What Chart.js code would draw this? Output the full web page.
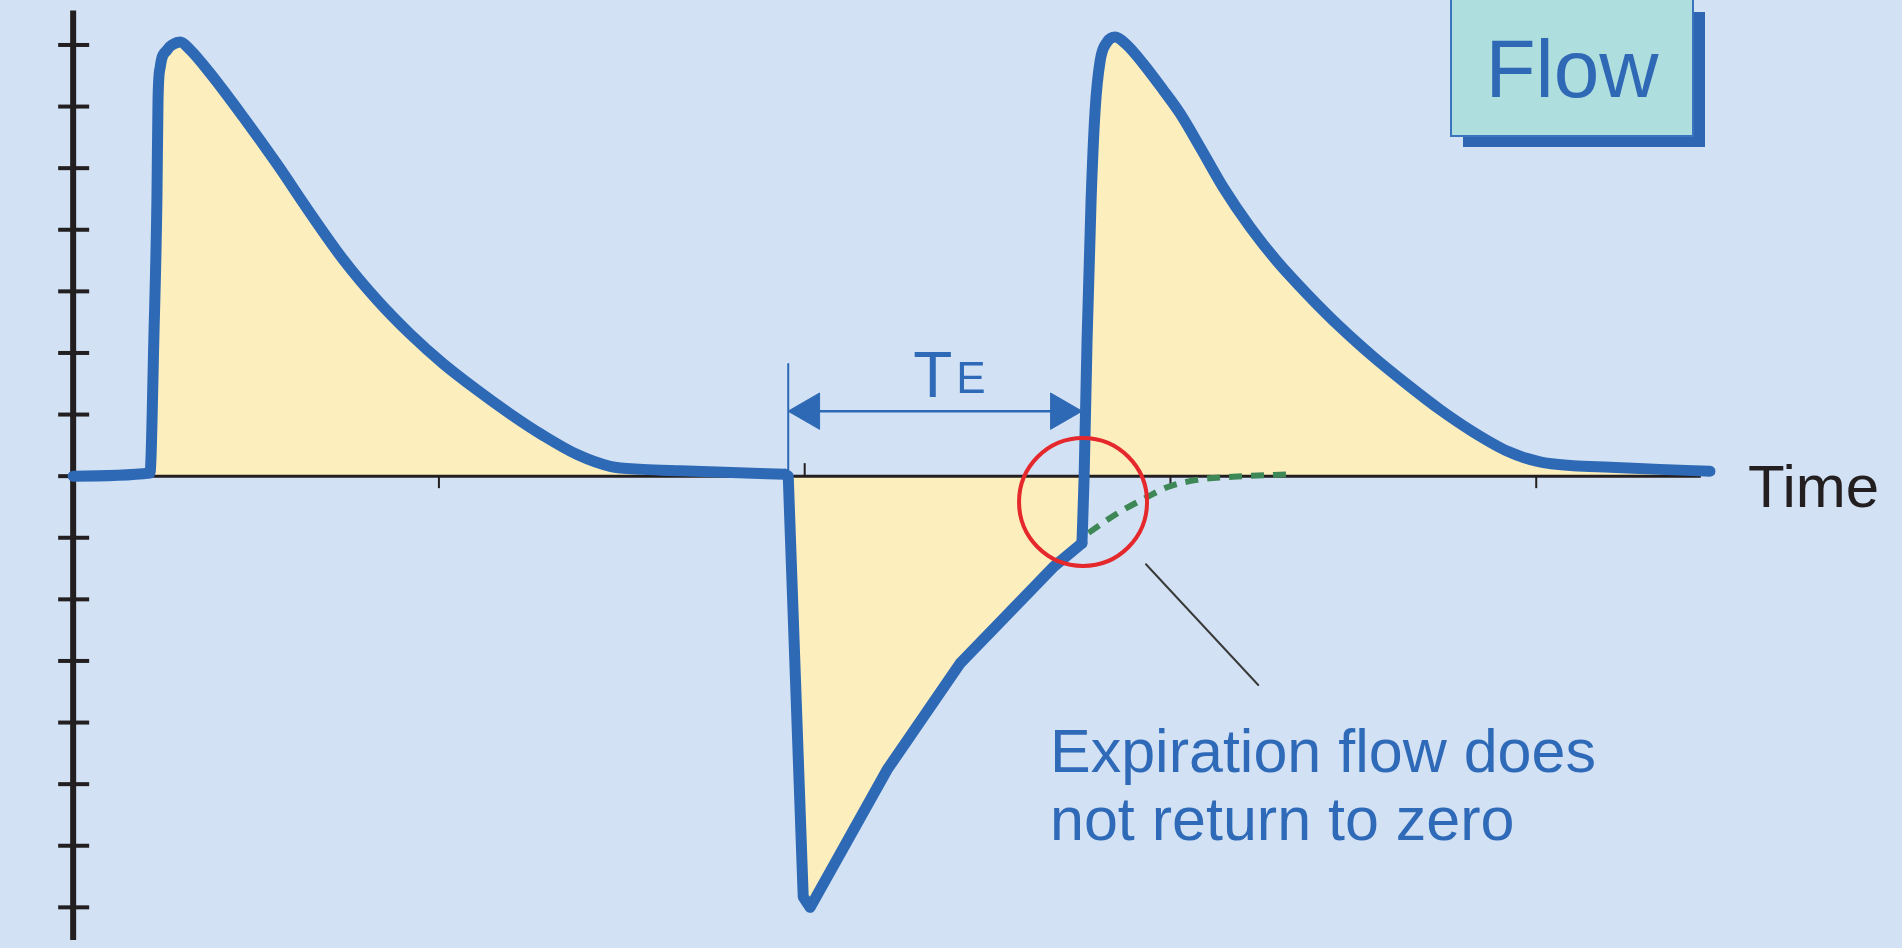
<!DOCTYPE html>
<html>
<head>
<meta charset="utf-8">
<title>Flow</title>
<script src="https://cdn.jsdelivr.net/npm/chart.js@4.4.1/dist/chart.umd.min.js"></script>
<style>
  html, body { margin: 0; padding: 0; background: #d2e1f3; overflow: hidden; }
  #wrap { width: 1902px; height: 948px; }
</style>
</head>
<body>
<div id="wrap"><canvas id="flowChart" width="1902" height="948"></canvas></div>
<script>
// Flow waveform. Time in tick units, flow in tick units.
const insp1Time = [0.0, 0.21, 0.221, 0.229, 0.232, 0.238, 0.257, 0.273, 0.2925, 0.32, 0.3745, 0.465, 0.558, 0.648, 0.738, 0.831, 0.921, 1.011, 1.104, 1.195, 1.285, 1.378, 1.468, 1.558, 1.659, 1.80, 1.946];
const insp1Flow = [0.0, 0.05, 2.32, 4.48, 6.10, 6.64, 6.92, 7.01, 7.05, 6.92, 6.54, 5.83, 5.06, 4.27, 3.52, 2.86, 2.31, 1.83, 1.40, 1.01, 0.66, 0.35, 0.16, 0.11, 0.086, 0.06, 0.03];

const expTime = [1.946, 1.955, 1.996, 2.015, 2.225, 2.425, 2.679, 2.758];
const expFlow = [0.03, 0.0, -6.83, -7.0, -4.77, -3.04, -1.48, -1.09];

const insp2Time = [2.758, 2.764, 2.772, 2.783, 2.794, 2.808, 2.827, 2.849, 2.881, 2.925, 2.98, 3.026, 3.081, 3.144, 3.218, 3.291, 3.373, 3.464, 3.554, 3.647, 3.737, 3.827, 3.92, 4.01, 4.101, 4.202, 4.338, 4.475];
const insp2Flow = [-1.09, 0.0, 2.21, 4.48, 5.94, 6.75, 7.05, 7.13, 7.0, 6.70, 6.27, 5.89, 5.34, 4.69, 4.04, 3.49, 2.96, 2.42, 1.94, 1.49, 1.08, 0.72, 0.41, 0.23, 0.17, 0.146, 0.11, 0.08];

// expected expiration if flow had returned to zero (dashed)
const trendTime = [2.776, 2.856, 2.936, 2.991, 3.073, 3.17, 3.32];
const trendFlow = [-0.92, -0.60, -0.34, -0.18, -0.06, -0.01, 0.03];

// TE interval: end of inspiration to start of next breath
const teStart = 1.955;
const teEnd = 2.758;
const teLevel = 1.055;
const teMarkerTop = 1.82;

// circled point and leader line
const circleAt = { x: 2.761, y: -0.42 };
const leaderTime = [2.933, 3.24];
const leaderFlow = [-1.43, -3.39];

const xTicks = [1, 2, 3, 4];
const xTickUp = [false, true, false, false];
const yTicks = [-7, -6, -5, -4, -3, -2, -1, 0, 1, 2, 3, 4, 5, 6, 7];

const BLUE = '#2e69b6';
const FILL = '#fdeebe';
const FONT = '"Liberation Sans", Arial, Helvetica, sans-serif';

const pts = (xs, ys) => xs.map((x, i) => ({ x: x, y: ys[i] }));

const axesPlugin = {
  id: 'flowAxes',
  beforeDraw(chart) {
    const ctx = chart.ctx;
    ctx.save();
    ctx.fillStyle = '#d2e1f3';
    ctx.fillRect(0, 0, chart.width, chart.height);
    ctx.restore();
  },
  beforeDatasetsDraw(chart) {
    const { ctx, scales: { x, y } } = chart;
    const x0 = x.getPixelForValue(0);
    const y0 = y.getPixelForValue(0);
    ctx.save();
    ctx.strokeStyle = '#231f20';
    // vertical axis with cross ticks
    ctx.lineWidth = 6;
    ctx.beginPath();
    ctx.moveTo(x0, y.getPixelForValue(7.56));
    ctx.lineTo(x0, y.getPixelForValue(-7.53));
    ctx.stroke();
    ctx.lineWidth = 4;
    yTicks.forEach(v => {
      const py = y.getPixelForValue(v);
      ctx.beginPath();
      ctx.moveTo(x0 - 15, py);
      ctx.lineTo(x0 + 16, py);
      ctx.stroke();
    });
    // time axis
    ctx.lineWidth = 3;
    ctx.beginPath();
    ctx.moveTo(x0, y0);
    ctx.lineTo(x.getPixelForValue(4.45), y0);
    ctx.stroke();
    ctx.lineWidth = 2;
    xTicks.forEach((v, i) => {
      const px = x.getPixelForValue(v);
      ctx.beginPath();
      ctx.moveTo(px, y0);
      ctx.lineTo(px, y0 + (xTickUp[i] ? -13 : 12));
      ctx.stroke();
    });
    ctx.restore();
  },
  afterDraw(chart) {
    const { ctx, scales: { x, y } } = chart;
    ctx.save();
    // "Flow" label box with offset shadow
    ctx.fillStyle = '#2e66b3';
    ctx.fillRect(1463, 12, 242, 135);
    ctx.fillStyle = '#afdedf';
    ctx.fillRect(1451, 0, 242, 136);
    ctx.strokeStyle = '#3b74be';
    ctx.lineWidth = 2;
    ctx.strokeRect(1451, -2, 242, 138);
    ctx.fillStyle = '#2f68b5';
    ctx.font = '82px ' + FONT;
    ctx.textAlign = 'center';
    ctx.textBaseline = 'alphabetic';
    ctx.fillText('Flow', 1572, 97);

    // TE label above the arrow
    ctx.textAlign = 'left';
    ctx.fillStyle = '#2f6ab8';
    const tx = x.getPixelForValue(teStart) + 125;
    const ty = y.getPixelForValue(teLevel) - 14;
    ctx.font = '64px ' + FONT;
    ctx.fillText('T', tx, ty);
    ctx.font = '44px ' + FONT;
    ctx.fillText('E', tx + 43, ty - 4);

    // axis name
    ctx.fillStyle = '#231f20';
    ctx.font = '60px ' + FONT;
    ctx.fillText('Time', 1748, 507);

    // note
    ctx.fillStyle = '#2f6ab8';
    ctx.font = '61px ' + FONT;
    ctx.fillText('Expiration flow does', 1050, 772);
    ctx.fillText('not return to zero', 1050, 840);
    ctx.restore();
  }
};

const lineBase = {
  showLine: true,
  pointRadius: 0,
  pointHoverRadius: 0,
  borderJoinStyle: 'round',
  borderCapStyle: 'round'
};

new Chart(document.getElementById('flowChart'), {
  type: 'line',
  data: {
    datasets: [
      {
        label: 'circle',
        data: [circleAt],
        showLine: false,
        pointRadius: 64,
        pointHoverRadius: 64,
        pointStyle: 'circle',
        pointBackgroundColor: 'rgba(0,0,0,0)',
        pointBorderColor: '#e5282c',
        pointBorderWidth: 4,
        order: 0
      },
      Object.assign({}, lineBase, {
        label: 'inspiration 1',
        data: pts(insp1Time, insp1Flow),
        borderColor: BLUE,
        borderWidth: 11,
        backgroundColor: FILL,
        fill: 'origin',
        cubicInterpolationMode: 'monotone',
        order: 1
      }),
      Object.assign({}, lineBase, {
        label: 'expiration',
        data: pts(expTime, expFlow),
        borderColor: BLUE,
        borderWidth: 11,
        backgroundColor: FILL,
        fill: 'origin',
        tension: 0,
        order: 1
      }),
      Object.assign({}, lineBase, {
        label: 'inspiration 2',
        data: pts(insp2Time, insp2Flow),
        borderColor: BLUE,
        borderWidth: 11,
        backgroundColor: FILL,
        fill: 'origin',
        cubicInterpolationMode: 'monotone',
        order: 1
      }),
      Object.assign({}, lineBase, {
        label: 'expected expiration',
        data: pts(trendTime, trendFlow),
        borderColor: '#3e8757',
        borderWidth: 6,
        borderDash: [13, 9],
        borderCapStyle: 'butt',
        fill: false,
        cubicInterpolationMode: 'monotone',
        order: 3
      }),
      Object.assign({}, lineBase, {
        label: 'TE marker',
        data: [{ x: teStart, y: 0 }, { x: teStart, y: teMarkerTop }],
        borderColor: BLUE,
        borderWidth: 2,
        fill: false,
        order: 4
      }),
      Object.assign({}, lineBase, {
        label: 'TE shaft',
        data: [{ x: teStart + 0.04, y: teLevel }, { x: teEnd - 0.04, y: teLevel }],
        borderColor: BLUE,
        borderWidth: 2.5,
        fill: false,
        order: 4
      }),
      {
        label: 'TE heads',
        data: [{ x: teStart + 0.057, y: teLevel }, { x: teEnd - 0.057, y: teLevel }],
        showLine: false,
        pointStyle: 'triangle',
        pointRotation: [-90, 90],
        pointRadius: 21,
        pointHoverRadius: 21,
        pointBackgroundColor: BLUE,
        pointBorderColor: BLUE,
        pointBorderWidth: 1,
        order: 4
      },
      Object.assign({}, lineBase, {
        label: 'leader',
        data: pts(leaderTime, leaderFlow),
        borderColor: '#3a3a3a',
        borderWidth: 2,
        fill: false,
        order: 4
      })
    ]
  },
  options: {
    responsive: false,
    animation: false,
    events: [],
    layout: { padding: 0, autoPadding: false },
    scales: {
      x: { type: 'linear', min: -0.2, max: 5.0, display: false },
      y: { type: 'linear', min: -7.66, max: 7.73, display: false }
    },
    plugins: {
      legend: { display: false },
      tooltip: { enabled: false },
      filler: { drawTime: 'beforeDatasetsDraw' }
    }
  },
  plugins: [axesPlugin]
});
</script>
</body>
</html>
